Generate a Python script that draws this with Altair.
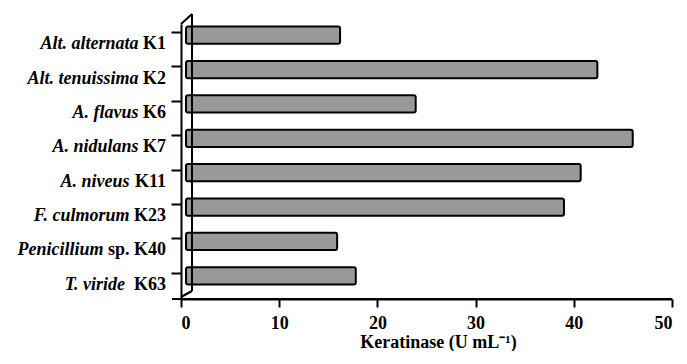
import altair as alt
import pandas as pd

species = ["Alt. alternata", "Alt. tenuissima", "A. flavus", "A. nidulans",
           "A. niveus", "F. culmorum", "Penicillium", "T. viride"]
codes = ["K1", "K2", "K6", "K7", "K11", "K23", "sp. K40", "K63"]
values = [16.2, 42.4, 23.9, 46.0, 40.7, 39.0, 15.9, 17.8]
x_ticks = [0, 10, 20, 30, 40, 50]

FONT = "Liberation Serif"
FS = 18
W, H = 491, 275

# approximate glyph widths (em) for Times bold, used to place the italic part
cw = {"K": 0.778, "s": 0.389, "p": 0.556, ".": 0.25, " ": 0.25}
def width_px(t):
    return sum(cw.get(c, 0.5) for c in t) * FS

CODE_RIGHT = -15
cats = [f"{s} {c}" for s, c in zip(species, codes)]
df = pd.DataFrame({
    "cat": cats,
    "species": species,
    "code": codes,
    "value": values,
})
df["zero"] = 0
df["sp_x"] = [CODE_RIGHT - width_px(c) - (0.25 * FS if s != "T. viride" else 0.5 * FS)
              for s, c in zip(species, codes)]

yenc = alt.Y("cat:N", sort=cats,
             scale=alt.Scale(paddingInner=0.5, paddingOuter=0.25),
             axis=alt.Axis(labels=False, title=None, bandPosition=0, tickSize=10,
                           tickWidth=2, tickColor="black", domainColor="black",
                           domainWidth=2))

bars = alt.Chart(df).mark_bar(
    color="#999999", stroke="black", strokeWidth=2, cornerRadius=2,
    xOffset=5, yOffset=-6, y2Offset=-6
).encode(
    x=alt.X("zero:Q", scale=alt.Scale(domain=[0, 50], nice=False),
            axis=alt.Axis(values=x_ticks, title="Keratinase (U mL⁻¹)", grid=False,
                          tickSize=8, tickWidth=2, tickColor="black",
                          domainColor="black", domainWidth=2,
                          labelFont=FONT, labelFontSize=FS, labelFontWeight="bold",
                          labelColor="black", labelPadding=7,
                          titleFont=FONT, titleFontSize=FS, titleFontWeight="bold",
                          titleColor="black", titleBaseline="alphabetic",
                          titleY=48, titleX=257)),
    x2="value:Q",
    y=yenc,
)

code_txt = alt.Chart(df).mark_text(
    align="right", baseline="middle", font=FONT, fontSize=FS, fontWeight="bold",
    color="black", dy=3
).encode(x=alt.value(CODE_RIGHT), y=alt.Y("cat:N", sort=cats), text="code:N")

sp_txt = alt.Chart(df).mark_text(
    align="right", baseline="middle", font=FONT, fontSize=FS, fontWeight="bold",
    fontStyle="italic", color="black", dy=3
).encode(x=alt.X("sp_x:Q", scale=None), y=alt.Y("cat:N", sort=cats), text="species:N")

one = alt.Data(values=[{"a": 1}])
def seg(x1, y1, x2, y2):
    return alt.Chart(one).mark_rule(color="black", strokeWidth=2).encode(
        x=alt.value(x1), y=alt.value(y1), x2=alt.value(x2), y2=alt.value(y2))

wall = [
    seg(0, 0, 11, -10),
    seg(11, -10, 11, 267),
    seg(0, 273, 11, 267),
    seg(-9, H, W, H),
]

chart = alt.layer(bars, code_txt, sp_txt, *wall).properties(
    width=W, height=H,
    autosize=alt.AutoSizeParams(type="none"),
    padding={"left": 173, "top": 16, "right": 7, "bottom": 52},
).configure_view(stroke=None)

chart.save("out.html", embed_options={"renderer": "svg", "actions": False})
